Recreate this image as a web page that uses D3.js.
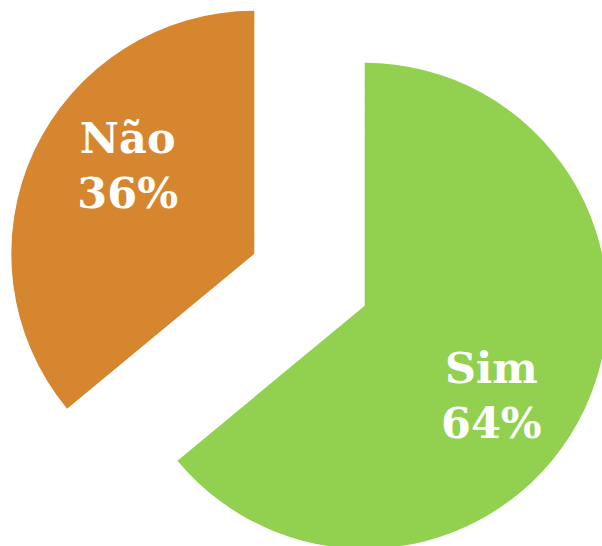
<!DOCTYPE html>
<html>
<head>
<meta charset="utf-8">
<script src="https://cdn.jsdelivr.net/npm/d3@7"></script>
<style>
  html, body { margin: 0; padding: 0; background: #fff; }
  svg { display: block; }
  .lbl { font-family: "DejaVu Serif", serif; font-weight: bold; fill: #fff; }
</style>
</head>
<body>
<svg id="chart"></svg>
<script>
// data
const categories = ['Sim', 'Não'];
const values = [64, 36];
const colors = ['#92d050', '#d6862e'];

const width = 602, height = 546;
const cx = 309.5, cy = 279.8;   // common centre before exploding
const radius = 243;
const explode = 61;

const svg = d3.select('#chart')
  .attr('width', width)
  .attr('height', height);

const pie = d3.pie().sort(null).value(d => d.value);
const data = categories.map((c, i) => ({ name: c, value: values[i], color: colors[i] }));
const arcs = pie(data);

const arc = d3.arc().innerRadius(0).outerRadius(radius);

const g = svg.append('g').attr('transform', `translate(${cx},${cy})`);

// each slice pulled out along its bisector
const slice = g.selectAll('g.slice')
  .data(arcs)
  .enter().append('g')
  .attr('class', 'slice')
  .attr('transform', d => {
    const a = (d.startAngle + d.endAngle) / 2;
    return `translate(${Math.sin(a) * explode},${-Math.cos(a) * explode})`;
  });

slice.append('path')
  .attr('d', arc)
  .attr('fill', d => d.data.color);

// labels sit a bit clockwise of the bisector
const labelR = 155, labelShift = 10 * Math.PI / 180;
const fontSize = 43, lineGap = 55;

slice.each(function(d) {
  const a = (d.startAngle + d.endAngle) / 2 + labelShift;
  const x = Math.sin(a) * labelR;
  const y = -Math.cos(a) * labelR;
  const t = d3.select(this).append('text')
    .attr('class', 'lbl')
    .attr('text-anchor', 'middle')
    .style('font-size', fontSize + 'px');
  // two lines: name then percent, cap block centred on (x, y)
  const capH = fontSize * 0.729;
  const top = y - (lineGap + capH) / 2;
  t.append('tspan').attr('x', x).attr('y', top + capH).text(d.data.name);
  t.append('tspan').attr('x', x).attr('y', top + capH + lineGap).text(d.data.value + '%');
});
</script>
</body>
</html>
